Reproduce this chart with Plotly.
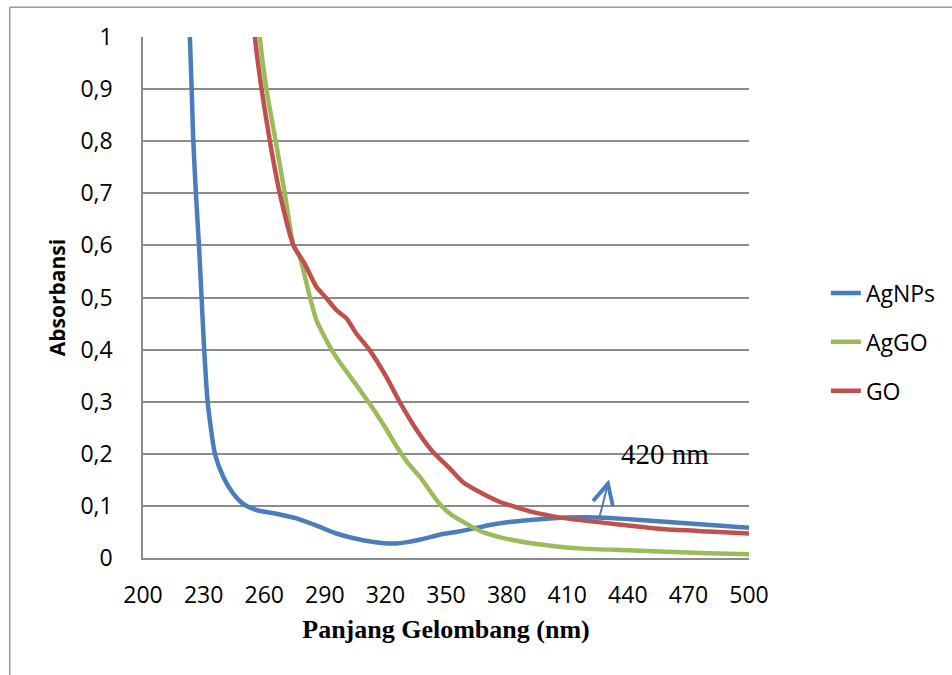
import plotly.graph_objects as go

# ---- data ----
agnps_nm = [222.0, 223.2, 224.1, 224.9, 226.2, 227.7, 229.0, 230.3, 232.0, 235.6, 239.7, 244.6,
            249.6, 256.2, 266.0, 276.0, 286.0, 295.7, 308.9, 318.0, 325.4, 330.0, 336.9,
            348.4, 355.0, 361.6, 371.0, 381.4, 401.2, 419.3, 442.4, 467.1, 500.0]
agnps_abs = [1.15, 1.0, 0.9, 0.8, 0.7, 0.6, 0.5, 0.399, 0.3, 0.2, 0.156, 0.124,
             0.104, 0.092, 0.085, 0.076, 0.062, 0.047, 0.034, 0.029, 0.028, 0.030, 0.035,
             0.046, 0.050, 0.055, 0.063, 0.069, 0.076, 0.078, 0.074, 0.067, 0.058]

aggo_nm = [255.0, 257.8, 261.1, 265.7, 270.2, 274.5, 277.6, 282.6, 285.9, 293.3, 299.0,
           305.6, 313.8, 320.0, 326.2, 331.0, 337.0, 346.8, 353.0, 360.0, 368.0, 376.5,
           393.0, 417.7, 440.0, 458.9, 480.0, 500.0]
aggo_abs = [1.12, 1.0, 0.9, 0.8, 0.7, 0.6, 0.578, 0.501, 0.456, 0.4, 0.367,
            0.332, 0.287, 0.25, 0.21, 0.183, 0.156, 0.104, 0.082, 0.066, 0.05, 0.04,
            0.028, 0.018, 0.015, 0.012, 0.009, 0.007]

go_nm = [252.5, 255.4, 258.7, 262.8, 267.7, 274.5, 280.0, 285.9, 290.5, 295.7, 300.7,
         305.6, 312.2, 320.4, 327.0, 334.4, 343.0, 351.8, 358.3, 365.0, 376.5, 393.0,
         409.4, 434.2, 458.9, 480.0, 500.0]
go_abs = [1.15, 1.0, 0.9, 0.8, 0.7, 0.6, 0.565, 0.52, 0.50, 0.476, 0.46,
          0.431, 0.399, 0.348, 0.30, 0.252, 0.206, 0.172, 0.146, 0.13, 0.108, 0.088,
          0.076, 0.065, 0.055, 0.051, 0.047]

x_ticks = [200, 230, 260, 290, 320, 350, 380, 410, 440, 470, 500]
y_ticks = [0, 0.1, 0.2, 0.3, 0.4, 0.5, 0.6, 0.7, 0.8, 0.9, 1]

peak_label = "420 nm"
peak_label_pos = (458.5, 0.199)
arrow_head = (430.7, 0.1506)
arrow_tail = (425.8, 0.0756)

# ---- styles ----
BLUE = "#4a7ebb"
GREEN = "#9bbb59"
RED = "#c0504d"
GRID = "#8c8c8c"
TICKFONT = dict(family="Open Sans", size=23, color="#000000")

fig = go.Figure()
for name, xs, ys, col in [("AgNPs", agnps_nm, agnps_abs, BLUE),
                          ("AgGO", aggo_nm, aggo_abs, GREEN),
                          ("GO", go_nm, go_abs, RED)]:
    fig.add_trace(go.Scatter(x=xs, y=ys, name=name, mode="lines", legendgroup=name,
                             line=dict(color=col, width=4.5, shape="spline", smoothing=0.6)))

fig.add_annotation(x=arrow_head[0], y=arrow_head[1], ax=arrow_tail[0], ay=arrow_tail[1],
                   xref="x", yref="y", axref="x", ayref="y", text="", showarrow=True,
                   arrowhead=5, arrowsize=2, arrowwidth=2, arrowcolor=BLUE,
                   standoff=0, startstandoff=0)
fig.add_annotation(x=peak_label_pos[0], y=peak_label_pos[1], xref="x", yref="y",
                   text=peak_label, showarrow=False,
                   font=dict(family="Liberation Serif", size=29, color="#000000"))

# outer frame (left & top edges visible in reference)
fig.add_shape(type="line", xref="paper", yref="paper", x0=-0.2199, x1=-0.2199, y0=-0.5, y1=1.057,
              line=dict(color="#9a9a9a", width=1.5))
fig.add_shape(type="line", xref="paper", yref="paper", x0=-0.2199, x1=1.6, y0=1.057, y1=1.057,
              line=dict(color="#9a9a9a", width=1.5))

fig.update_layout(
    width=952, height=675,
    margin=dict(l=143, r=202, t=37, b=117),
    paper_bgcolor="white", plot_bgcolor="white",
    separators=", ",
    showlegend=True,
    legend=dict(x=1.125, y=0.55, xanchor="left", yanchor="top",
                font=dict(family="Open Sans", size=23, color="#000000"),
                tracegroupgap=16, traceorder="grouped", bgcolor="rgba(0,0,0,0)"),
)
fig.update_xaxes(range=[200, 500], tickvals=x_ticks, showgrid=False, zeroline=False,
                 showline=True, linecolor=GRID, linewidth=1.5, ticks="",
                 tickfont=TICKFONT, ticklabelstandoff=16,
                 title=dict(text="<b>Panjang Gelombang (nm)</b>",
                            font=dict(family="Liberation Serif", size=26, color="#000000"),
                            standoff=10))
fig.update_yaxes(range=[0, 1], tickvals=y_ticks, showgrid=True, gridcolor=GRID, gridwidth=1.5,
                 zeroline=False, showline=True, linecolor=GRID, linewidth=1.5, ticks="",
                 tickfont=TICKFONT, ticklabelstandoff=24,
                 title=dict(text="<b>Absorbansi</b>",
                            font=dict(family="Open Sans", size=21, color="#000000"),
                            standoff=9))

fig.write_html("out.html")
